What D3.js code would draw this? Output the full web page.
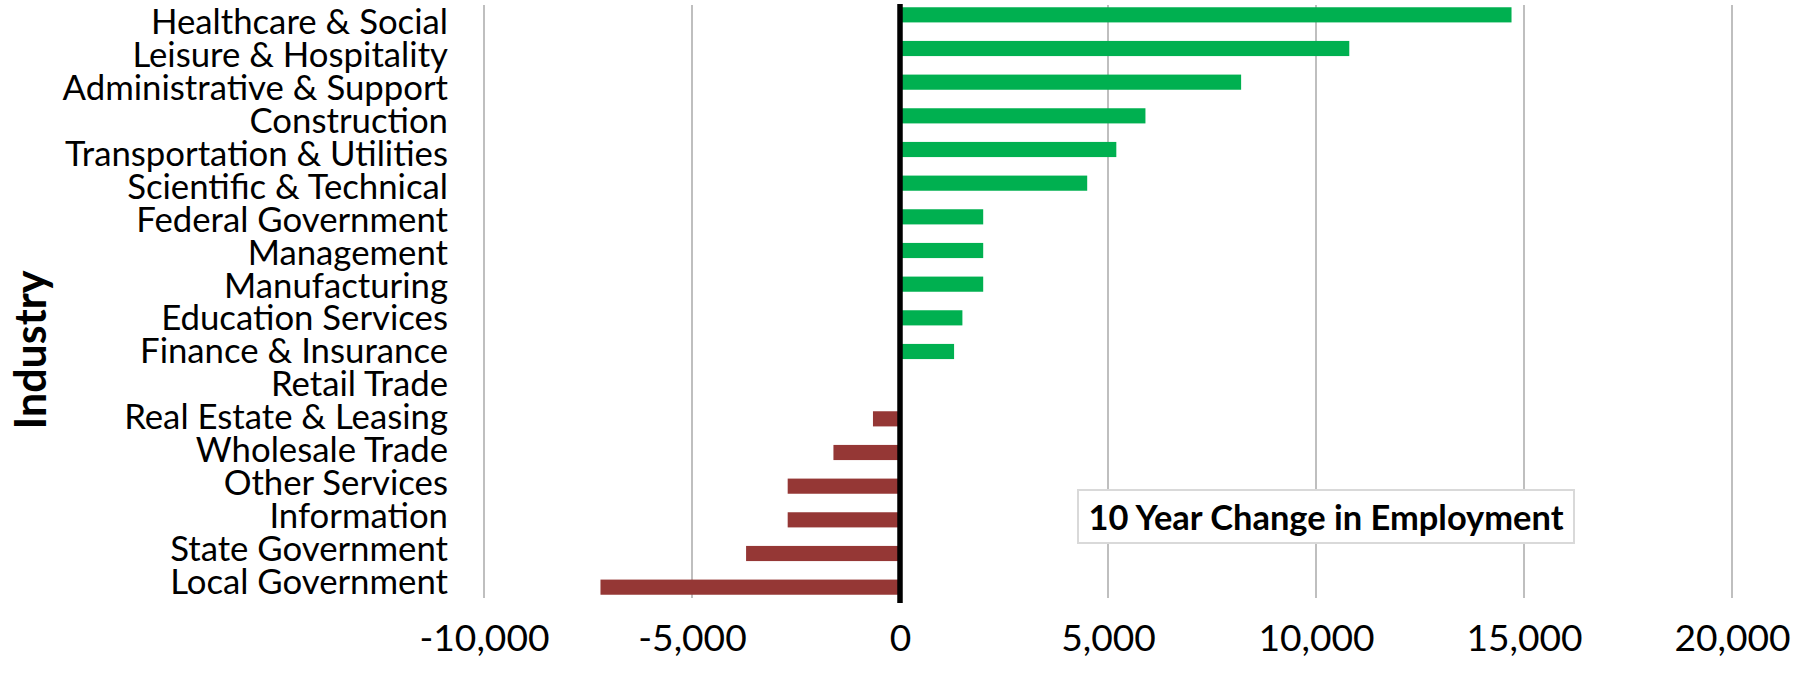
<!DOCTYPE html>
<html>
<head>
<meta charset="utf-8">
<script src="https://cdn.jsdelivr.net/npm/d3@7"></script>
<style>
  html, body { margin: 0; padding: 0; background: #ffffff; }
  svg { display: block; font-family: Lato, "Open Sans", sans-serif; }
</style>
</head>
<body>
<div id="chart"></div>
<script>
// ============================================
// DATA
// ============================================

const categories = [
  "Healthcare & Social",
  "Leisure & Hospitality",
  "Administrative & Support",
  "Construction",
  "Transportation & Utilities",
  "Scientific & Technical",
  "Federal Government",
  "Management",
  "Manufacturing",
  "Education Services",
  "Finance & Insurance",
  "Retail Trade",
  "Real Estate & Leasing",
  "Wholesale Trade",
  "Other Services",
  "Information",
  "State Government",
  "Local Government",
];

// 10 year change in employment
const changes = [
  14700, 10800, 8200, 5900, 5200, 4500, 2000, 2000, 2000, 1500, 1300, 0,
  -650, -1600, -2700, -2700, -3700, -7200,
];

const xTicks = [-10000, -5000, 0, 5000, 10000, 15000, 20000];

const chartTitle = "10 Year Change in Employment";
const yTitle = "Industry";

// ============================================
// LAYOUT
// ============================================

const width = 1808;
const height = 675;

const plot = { left: 484, right: 1732, top: 5, bottom: 598 };

const COLORS = {
  gain: "#00b050",
  loss: "#953735",
  grid: "#bfbfbf",
  text: "#000000",
};

/**
 * Font size that makes a sample text take the target width
 */
function fitFontSize(parent, sample, targetWidth, weight = "normal", base = 30) {
  const probe = parent
    .append("text")
    .style("font-size", base + "px")
    .style("font-weight", weight)
    .text(sample);
  const w = probe.node().getComputedTextLength();
  probe.remove();
  return (base * targetWidth) / w;
}

// plain hyphen for negatives, like the original
const formatValue = (d) => d3.format(",")(d).replace("\u2212", "-");

// ============================================
// DRAW
// ============================================

const svg = d3
  .select("#chart")
  .append("svg")
  .attr("width", width)
  .attr("height", height);

const x = d3
  .scaleLinear()
  .domain([xTicks[0], xTicks[xTicks.length - 1]])
  .range([plot.left, plot.right]);

// bars
const y = d3
  .scaleBand()
  .domain(categories)
  .range([-2, 604])
  .paddingInner(0.55)
  .paddingOuter(0.275);

// category labels sit on the plot area bands
const yLabel = d3
  .scaleBand()
  .domain(categories)
  .range([plot.top, plot.bottom]);

// gridlines
svg
  .append("g")
  .selectAll("line")
  .data(xTicks.filter((t) => t !== 0))
  .join("line")
  .attr("x1", (d) => x(d))
  .attr("x2", (d) => x(d))
  .attr("y1", plot.top)
  .attr("y2", plot.bottom)
  .attr("stroke", COLORS.grid)
  .attr("stroke-width", 2);

// bars
svg
  .append("g")
  .selectAll("rect")
  .data(categories.map((c, i) => ({ name: c, value: changes[i] })))
  .join("rect")
  .attr("x", (d) => x(Math.min(0, d.value)))
  .attr("y", (d) => y(d.name))
  .attr("width", (d) => Math.abs(x(d.value) - x(0)))
  .attr("height", y.bandwidth())
  .attr("fill", (d) => (d.value >= 0 ? COLORS.gain : COLORS.loss));

// zero axis
svg
  .append("line")
  .attr("x1", x(0))
  .attr("x2", x(0))
  .attr("y1", 4)
  .attr("y2", 603)
  .attr("stroke", "#000")
  .attr("stroke-width", 5.5);

// category labels
const catSize = fitFontSize(svg, "Transportation & Utilities", 383);
const yAxis = svg
  .append("g")
  .attr("transform", `translate(${448},0)`)
  .call(d3.axisLeft(yLabel).tickSize(0).tickPadding(0));
yAxis.select(".domain").remove();
yAxis
  .selectAll("text")
  .attr("fill", COLORS.text)
  .style("font-family", "Lato, sans-serif")
  .style("font-size", catSize + "px")
  .attr("dy", "0.36em");

// value labels
const tickSize = fitFontSize(svg, "-10,000", 130);
const xAxis = svg
  .append("g")
  .attr("transform", `translate(0,${651})`)
  .call(
    d3
      .axisBottom(x)
      .tickValues(xTicks)
      .tickFormat(formatValue)
      .tickSize(0)
      .tickPadding(0)
  );
xAxis.select(".domain").remove();
xAxis
  .selectAll("text")
  .attr("fill", COLORS.text)
  .attr("dy", 0)
  .style("font-family", "Lato, sans-serif")
  .style("font-size", tickSize + "px");

// axis title
const ySize = fitFontSize(svg, yTitle, 159, "bold");
svg
  .append("text")
  .attr("transform", `translate(${46},${350}) rotate(-90)`)
  .attr("text-anchor", "middle")
  .style("font-weight", "bold")
  .style("font-size", ySize + "px")
  .attr("fill", COLORS.text)
  .text(yTitle);

// chart title box
const box = { x0: 1078, x1: 1574, y0: 490, y1: 543 };
svg
  .append("rect")
  .attr("x", box.x0)
  .attr("y", box.y0)
  .attr("width", box.x1 - box.x0)
  .attr("height", box.y1 - box.y0)
  .attr("fill", "#fff")
  .attr("stroke", "#d9d9d9")
  .attr("stroke-width", 2);

const titleSize = fitFontSize(svg, chartTitle, 475, "bold");
svg
  .append("text")
  .attr("x", (box.x0 + box.x1) / 2)
  .attr("y", 530)
  .attr("text-anchor", "middle")
  .style("font-weight", "bold")
  .style("font-size", titleSize + "px")
  .attr("fill", COLORS.text)
  .text(chartTitle);
</script>
</body>
</html>
